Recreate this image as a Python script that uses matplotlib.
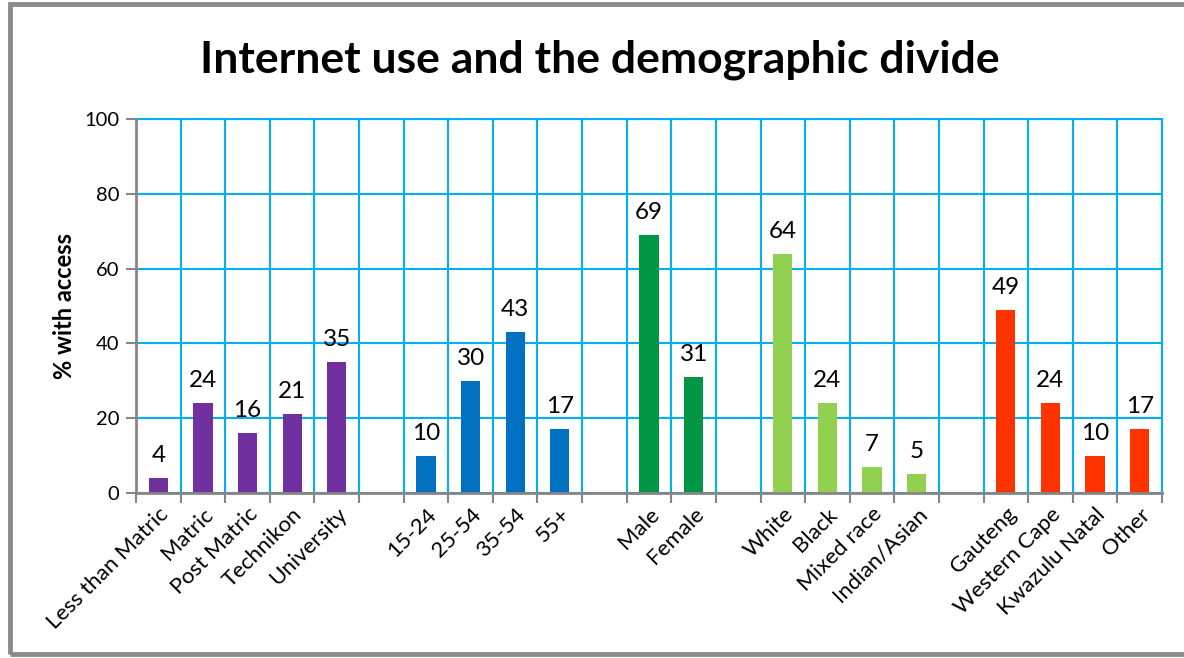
import matplotlib
matplotlib.use("Agg")
import matplotlib.pyplot as plt
from matplotlib.patches import Rectangle
import numpy as np

categories = ["Less than Matric", "Matric", "Post Matric", "Technikon", "University", "",
              "15-24", "25-54", "35-54", "55+", "",
              "Male", "Female", "",
              "White", "Black", "Mixed race", "Indian/Asian", "",
              "Gauteng", "Western Cape", "Kwazulu Natal", "Other"]
values = [4, 24, 16, 21, 35, None,
          10, 30, 43, 17, None,
          69, 31, None,
          64, 24, 7, 5, None,
          49, 24, 10, 17]
group_colors = ["#7030A0"] * 6 + ["#0070C0"] * 5 + ["#009644"] * 3 + ["#92D050"] * 5 + ["#FF3300"] * 4
title = "Internet use and the demographic divide"
ylabel = "% with access"
yticks = [0, 20, 40, 60, 80, 100]

plt.rcParams['font.family'] = ['Lato', 'DejaVu Sans']

fig = plt.figure(figsize=(11.84, 6.58), dpi=100)
fig.patches.append(Rectangle((10 / 1184, 4 / 658), 1.0, 650 / 658, transform=fig.transFigure,
                             fill=False, edgecolor="#8C8C8C", linewidth=3.5, zorder=0))

ax = fig.add_axes([136 / 1184, 1 - 493 / 658, 1026 / 1184, 374 / 658])
n = len(categories)
x = np.arange(n)
for i, v in enumerate(values):
    if v is None:
        continue
    ax.bar(x[i], v, width=0.43, color=group_colors[i], zorder=3)
    ax.text(x[i], v + 3.2, str(v), ha="center", va="bottom", fontsize=17.5, color="black", zorder=4)

ax.set_xlim(-0.5, n - 0.5)
ax.set_ylim(0, 100)
ax.set_yticks(yticks)
ax.set_yticklabels([str(t) for t in yticks], fontsize=14.5)
ax.set_xticks(x)
ax.set_xticklabels(categories, rotation=45, ha="right", rotation_mode="anchor", fontsize=16)
ax.tick_params(axis="x", length=0, pad=8)
ax.set_xticks(np.arange(-0.5, n, 1.0), minor=True)
ax.tick_params(axis="x", which="minor", length=7, width=1.5, color="#868686", direction="out")
ax.tick_params(axis="y", length=7, width=1.5, color="#868686", direction="out", pad=5)

ax.grid(True, which="minor", axis="x", color="#00B0F0", linewidth=1.5, zorder=0)
ax.grid(True, which="major", axis="y", color="#00B0F0", linewidth=1.5, zorder=0)
ax.set_axisbelow(True)
for s in ["top", "right"]:
    ax.spines[s].set_color("#00B0F0")
    ax.spines[s].set_linewidth(1.5)
for s in ["left", "bottom"]:
    ax.spines[s].set_color("#868686")
    ax.spines[s].set_linewidth(2)
    ax.spines[s].set_zorder(5)

ax.set_ylabel(ylabel, fontsize=17, fontweight="bold", labelpad=6)
fig.text(600 / 1184, 1 - 60 / 658, title, ha="center", va="center", fontsize=32, fontweight="bold")

fig.savefig("out.png", dpi=100)
